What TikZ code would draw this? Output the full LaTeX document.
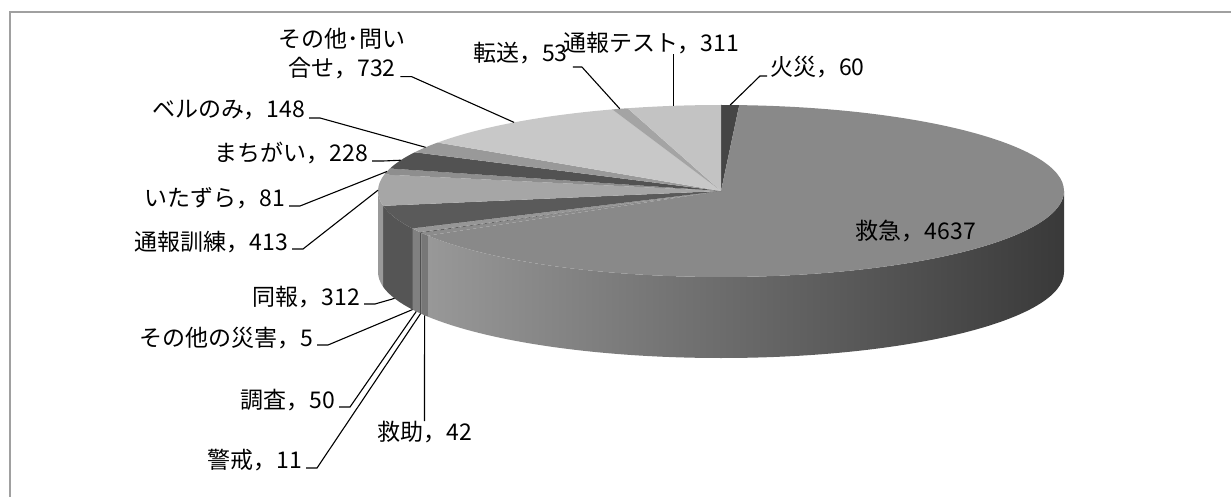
\documentclass[tikz,border=0pt]{standalone}
\usepackage{fontspec}
\usetikzlibrary{calc}
\setmainfont{Noto Sans CJK JP}
\definecolor{frame}{HTML}{A0A0A0}
\definecolor{kasai}{HTML}{454545}
\definecolor{kyukyu}{HTML}{898989}
\definecolor{kyujo}{HTML}{8C8C8C}
\definecolor{keikai}{HTML}{5E5E5E}
\definecolor{chosa}{HTML}{969696}
\definecolor{saigai}{HTML}{7A7A7A}
\definecolor{doho}{HTML}{5A5A5A}
\definecolor{kunren}{HTML}{A6A6A6}
\definecolor{itazura}{HTML}{8E8E8E}
\definecolor{machigai}{HTML}{525252}
\definecolor{beru}{HTML}{999999}
\definecolor{toiawase}{HTML}{C8C8C8}
\definecolor{tenso}{HTML}{A4A4A4}
\definecolor{tsuhotest}{HTML}{C3C3C3}
\definecolor{wallL}{HTML}{989898}
\definecolor{wallM}{HTML}{6A6A6A}
\definecolor{wallR}{HTML}{393939}
\begin{document}
\begin{tikzpicture}[x=1pt,y=-1pt,
    tag/.style={inner sep=0pt,font=\fontsize{23}{29}\selectfont},
    leader/.style={draw=black,line width=1.1pt},
    face/.style={x radius=343,y radius=86}]
  \useasboundingbox (0,0) rectangle (1231,497);
  \clip (0,0) rectangle (1231,497);
  \draw[frame,line width=2pt] (10,12) rectangle (1260,530);

  % pie, centred on the apex, angles counted as usual
  \begin{scope}[shift={(721,191)},yscale=-1]
    % side walls (front half only)
    \shade[left color=wallL,middle color=wallM,right color=wallR]
      (211.27:343 and 86) arc[start angle=211.27,end angle=360,face]
      -- ++(0,-81) arc[start angle=360,end angle=211.27,face] -- cycle;
    \fill[kyujo!85!black] (209.14:343 and 86) arc[start angle=209.14,end angle=211.27,face] -- ++(0,-81) arc[start angle=211.27,end angle=209.14,face] -- cycle;
    \fill[keikai!85!black] (208.58:343 and 86) arc[start angle=208.58,end angle=209.14,face] -- ++(0,-81) arc[start angle=209.14,end angle=208.58,face] -- cycle;
    \fill[chosa!85!black] (206.04:343 and 86) arc[start angle=206.04,end angle=208.58,face] -- ++(0,-81) arc[start angle=208.58,end angle=206.04,face] -- cycle;
    \fill[saigai!85!black] (205.78:343 and 86) arc[start angle=205.78,end angle=206.04,face] -- ++(0,-81) arc[start angle=206.04,end angle=205.78,face] -- cycle;
    \fill[doho!95!black] (189.93:343 and 86) arc[start angle=189.93,end angle=205.78,face] -- ++(0,-81) arc[start angle=205.78,end angle=189.93,face] -- cycle;
    \fill[kunren!92!black] (180:343 and 86) arc[start angle=180,end angle=189.93,face] -- ++(0,-81) arc[start angle=189.93,end angle=180,face] -- cycle;

    % top faces, clockwise from twelve o'clock
    \fill[kasai] (0,0) -- (90:343 and 86) arc[start angle=90,end angle=86.95,face] -- cycle;
    \fill[kyukyu] (0,0) -- (86.95:343 and 86) arc[start angle=86.95,end angle=-148.73,face] -- cycle;
    \fill[kyujo] (0,0) -- (211.27:343 and 86) arc[start angle=211.27,end angle=209.14,face] -- cycle;
    \fill[keikai] (0,0) -- (209.14:343 and 86) arc[start angle=209.14,end angle=208.58,face] -- cycle;
    \fill[chosa] (0,0) -- (208.58:343 and 86) arc[start angle=208.58,end angle=206.04,face] -- cycle;
    \fill[saigai] (0,0) -- (206.04:343 and 86) arc[start angle=206.04,end angle=205.78,face] -- cycle;
    \fill[doho] (0,0) -- (205.78:343 and 86) arc[start angle=205.78,end angle=189.93,face] -- cycle;
    \fill[kunren] (0,0) -- (189.93:343 and 86) arc[start angle=189.93,end angle=168.94,face] -- cycle;
    \fill[itazura] (0,0) -- (168.94:343 and 86) arc[start angle=168.94,end angle=164.82,face] -- cycle;
    \fill[machigai] (0,0) -- (164.82:343 and 86) arc[start angle=164.82,end angle=153.23,face] -- cycle;
    \fill[beru] (0,0) -- (153.23:343 and 86) arc[start angle=153.23,end angle=145.71,face] -- cycle;
    \fill[toiawase] (0,0) -- (145.71:343 and 86) arc[start angle=145.71,end angle=108.50,face] -- cycle;
    \fill[tenso] (0,0) -- (108.50:343 and 86) arc[start angle=108.50,end angle=105.81,face] -- cycle;
    \fill[tsuhotest] (0,0) -- (105.81:343 and 86) arc[start angle=105.81,end angle=90,face] -- cycle;

    % where the leaders meet the pie
    \coordinate (kasai-rim) at (88.47:343 and 86);
    \coordinate (tsuhotest-rim) at (97.90:343 and 86);
    \coordinate (tenso-rim) at (107.16:343 and 86);
    \coordinate (toiawase-rim) at (127.10:343 and 86);
    \coordinate (beru-rim) at (149.47:343 and 86);
    \coordinate (machigai-rim) at (159.03:343 and 86);
    \coordinate (itazura-rim) at (166.88:343 and 86);
    \coordinate (kunren-rim) at (179.44:343 and 86);
    \coordinate (doho-rim) at ($(197.86:343 and 86)+(0,-81)$);
    \coordinate (saigai-rim) at ($(205.91:343 and 86)+(0,-81)$);
    \coordinate (chosa-rim) at ($(207.31:343 and 86)+(0,-81)$);
    \coordinate (keikai-rim) at ($(208.86:343 and 86)+(0,-81)$);
    \coordinate (kyujo-rim) at ($(210.20:343 and 86)+(0,-81)$);
  \end{scope}

  % labels
  \node[tag] (kyukyu) at (916,231) {救急，4637};
  \node[tag,align=center] (toiawase) at (342,54) {その他･問い\\合せ，732};
  \node[tag,anchor=east] (beru) at (305,110) {ベルのみ，148};
  \node[tag,anchor=east] (machigai) at (368,153) {まちがい，228};
  \node[tag,anchor=east] (itazura) at (285,198) {いたずら，81};
  \node[tag,anchor=east] (kunren) at (288,242) {通報訓練，413};
  \node[tag,anchor=east] (doho) at (360,297) {同報，312};
  \node[tag,anchor=east] (saigai) at (313,338) {その他の災害，5};
  \node[tag,anchor=east] (chosa) at (335,400) {調査，50};
  \node[tag,anchor=east] (keikai) at (302,460) {警戒，11};
  \node[tag,anchor=north] (kyujo) at (424.5,421) {救助，42};
  \node[tag,anchor=west] (tenso) at (473,53) {転送，53};
  \node[tag,anchor=west] (tsuhotest) at (563,43) {通報テスト，311};
  \node[tag,anchor=west] (kasai) at (770,67) {火災，60};

  % leaders
  \draw[leader] ([shift={(-5,-3)}]toiawase.south east) -- ++(11,0) -- (toiawase-rim);
  \draw[leader] ([shift={(4,8)}]beru.east) -- ++(11,0) -- (beru-rim);
  \draw[leader] ([shift={(4,8)}]machigai.east) -- ++(11,0) -- (machigai-rim);
  \draw[leader] ([shift={(4,8)}]itazura.east) -- ++(11,0) -- (itazura-rim);
  \draw[leader] ([shift={(4,7)}]kunren.east) -- ++(11,0) -- (kunren-rim);
  \draw[leader] ([shift={(4,7)}]doho.east) -- ++(11,0) -- (doho-rim);
  \draw[leader] ([shift={(4,7)}]saigai.east) -- ++(11,0) -- (saigai-rim);
  \draw[leader] ([shift={(4,7)}]chosa.east) -- ++(11,0) -- (chosa-rim);
  \draw[leader] ([shift={(4,8)}]keikai.east) -- ++(11,0) -- (keikai-rim);
  \draw[leader] (kyujo.north) -- (kyujo-rim);
  \draw[leader] ([shift={(5,14)}]tenso.east) -- ++(9,0) -- (tenso-rim);
  \draw[leader] (tsuhotest.south -| tsuhotest-rim) -- (tsuhotest-rim);
  \draw[leader] ([shift={(-3,9)}]kasai.west) -- ++(-7,0) -- (kasai-rim);
\end{tikzpicture}
\end{document}
